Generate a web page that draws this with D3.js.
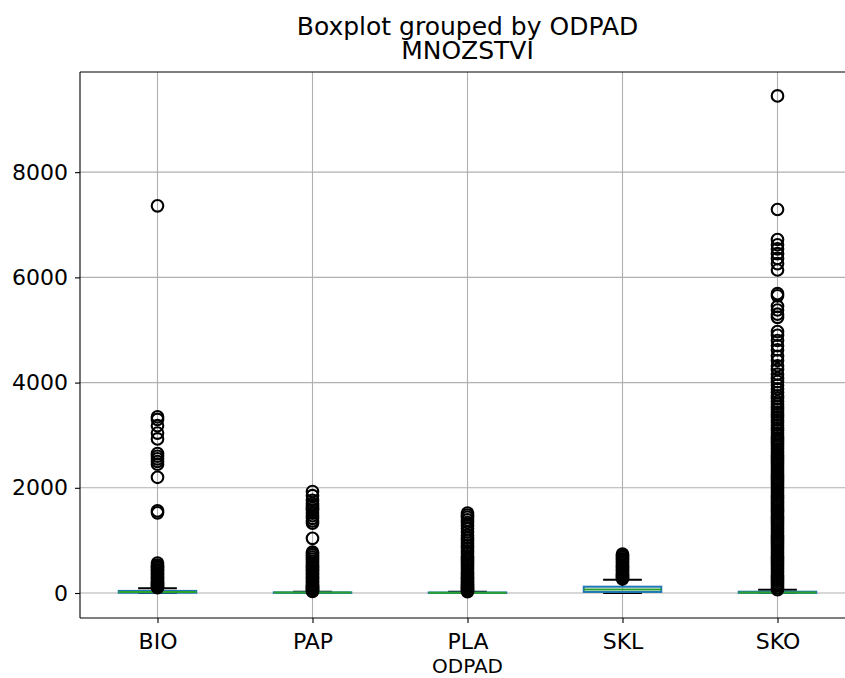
<!DOCTYPE html>
<html><head><meta charset="utf-8">
<script src="https://cdn.jsdelivr.net/npm/d3@7"></script>
<style>html,body{margin:0;background:#fff;overflow:hidden}svg{display:block}text{font-family:"DejaVu Sans",sans-serif;fill:#000}</style>
</head><body>
<svg id="chart" width="845" height="678"></svg>
<script>
const categories = ["BIO","PAP","PLA","SKL","SKO"];
const yTicks = [0,2000,4000,6000,8000];
const q1 = [5, 2, 1, 20, 3];
const median = [20, 8, 5, 66, 10];
const q3 = [40, 12, 10, 120, 25];
const whiskerLow = [0, 0, 0, 0, 0];
const whiskerHigh = [90, 25, 22, 250, 60];
const fliersBIO = [100,120,140,160,180,200,230,260,290,320,350,380,410,440,470,500,530,570,1525,1560,2200,2450,2500,2550,2600,2650,2930,3040,3180,3300,3350,7360];
const fliersPAP = [30,50,70,90,110,130,150,170,200,230,260,290,320,350,380,410,440,470,500,530,560,600,640,680,720,750,780,1040,1330,1370,1420,1470,1520,1570,1610,1660,1700,1760,1850,1930];
const fliersPLA = [25,45,65,85,105,125,150,175,200,230,260,290,320,350,380,420,460,500,540,580,620,660,700,750,800,850,900,950,1000,1050,1100,1160,1220,1280,1340,1390,1440,1480,1520];
const fliersSKL = [270,290,310,330,350,380,410,440,470,500,530,560,590,620,650,680,710,740];
const fliersSKO = [9450,7290,6720,6620,6540,6450,6360,6260,6140,5690,5650,5450,5380,5300,5240,4970,4900,4800,4700,4620,4500,4420,4320,4250,4160,4080,4020,3950,3880,3810,3750,3700,3640,3590,3540,3490,3440,3390,3340,3290,3240,3190,3140,3090,3040,2990,2940,
2900,2860,2820,2780,2740,2700,2660,2620,2580,2540,2500,2460,2420,2380,2340,2300,2260,2220,2180,2140,2100,2060,2020,1980,1940,1900,1860,1820,1780,1740,1700,1660,1620,1580,1540,1500,1460,1420,1380,1340,1300,1260,1220,1180,1140,1100,1060,1020,980,940,900,860,820,780,740,700,660,620,580,540,500,460,420,380,340,300,260,220,180,140,100,65];
const fliers = [fliersBIO, fliersPAP, fliersPLA, fliersSKL, fliersSKO];

const svg = d3.select("#chart");
const L = 80, R = 855, T = 72, B = 618;
const x = d3.scaleLinear().domain([0.5, 5.5]).range([L, R]);
const y = d3.scaleLinear().domain([-475, 9904]).range([B, T]);
const gridC = "#b0b0b0";

svg.append("g").selectAll("line").data(yTicks).join("line")
  .attr("x1", L).attr("x2", R).attr("y1", d => y(d)).attr("y2", d => y(d))
  .attr("stroke", gridC).attr("stroke-width", 1.1);
svg.append("g").selectAll("line").data(categories).join("line")
  .attr("x1", (d,i) => x(i+1)).attr("x2", (d,i) => x(i+1)).attr("y1", T).attr("y2", B)
  .attr("stroke", gridC).attr("stroke-width", 1.1);

const g = svg.append("g");
const bw = x(1.25) - x(1), cw = x(1.125) - x(1);
categories.forEach((c, i) => {
  const cx = x(i+1);
  g.append("line").attr("x1", cx).attr("x2", cx).attr("y1", y(q3[i])).attr("y2", y(whiskerHigh[i])).attr("stroke", "#000").attr("stroke-width", 2);
  g.append("line").attr("x1", cx).attr("x2", cx).attr("y1", y(q1[i])).attr("y2", y(whiskerLow[i])).attr("stroke", "#000").attr("stroke-width", 2);
  [whiskerHigh[i], whiskerLow[i]].forEach(v => {
    g.append("line").attr("x1", cx - cw).attr("x2", cx + cw).attr("y1", y(v)).attr("y2", y(v)).attr("stroke", "#000").attr("stroke-width", 2);
  });
  g.append("rect").attr("x", cx - bw).attr("width", 2*bw)
    .attr("y", y(q3[i])).attr("height", y(q1[i]) - y(q3[i]))
    .attr("fill", "none").attr("stroke", "#1f77b4").attr("stroke-width", 2);
  g.append("line").attr("x1", cx - bw).attr("x2", cx + bw).attr("y1", y(median[i])).attr("y2", y(median[i])).attr("stroke", "#2ca02c").attr("stroke-width", 2);
  g.append("g").selectAll("circle").data(fliers[i]).join("circle")
    .attr("cx", cx).attr("cy", d => y(d)).attr("r", 5.8)
    .attr("fill", "none").attr("stroke", "#000").attr("stroke-width", 2.1);
});

const sp = svg.append("g").attr("stroke", "#000").attr("stroke-width", 1.1);
sp.append("line").attr("x1", L).attr("x2", L).attr("y1", T).attr("y2", B);
sp.append("line").attr("x1", L).attr("x2", R).attr("y1", T).attr("y2", T);
sp.append("line").attr("x1", L).attr("x2", R).attr("y1", B).attr("y2", B);

const yAxis = svg.append("g").attr("transform", `translate(${L},0)`)
  .call(d3.axisLeft(y).tickValues(yTicks).tickSize(5).tickPadding(7).tickFormat(d3.format("d")));
yAxis.select(".domain").remove();
yAxis.selectAll("line").attr("stroke-width", 1.1);
yAxis.selectAll("text").attr("font-size", "22px").style("font-family", "DejaVu Sans");

const xAxis = svg.append("g").attr("transform", `translate(0,${B})`)
  .call(d3.axisBottom(x).tickValues([1,2,3,4,5]).tickSize(5).tickPadding(10).tickFormat(d => categories[d-1]));
xAxis.select(".domain").remove();
xAxis.selectAll("line").attr("stroke-width", 1.1);
xAxis.selectAll("text").attr("font-size", "22px").style("font-family", "DejaVu Sans");

const cxAll = (L + R) / 2;
svg.append("text").attr("x", cxAll).attr("y", 673).attr("text-anchor", "middle").attr("font-size", "20px").text("ODPAD");
svg.append("text").attr("x", cxAll).attr("y", 35).attr("text-anchor", "middle").attr("font-size", "25px").text("Boxplot grouped by ODPAD");
svg.append("text").attr("x", cxAll).attr("y", 59).attr("text-anchor", "middle").attr("font-size", "25px").text("MNOZSTVI");
</script>
</body></html>
